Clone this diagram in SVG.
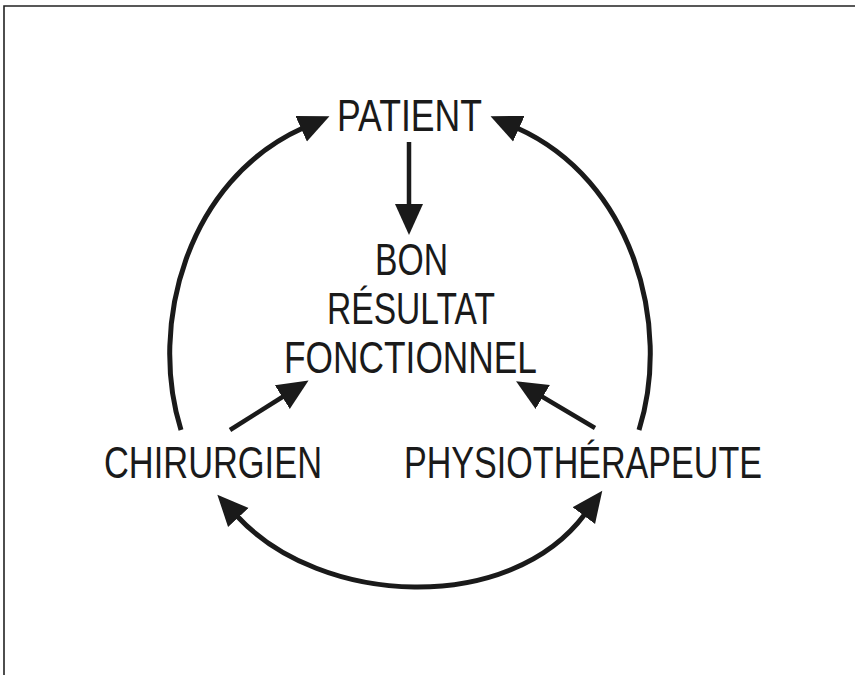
<svg xmlns="http://www.w3.org/2000/svg" width="855" height="675" viewBox="0 0 855 675">
<style>
.lbl{font-family:"Liberation Sans",Arial,sans-serif;font-size:45px;fill:#1a1a1a}
.arc{fill:none;stroke:#1a1a1a;stroke-width:5}
.ln{fill:none;stroke:#1a1a1a;stroke-width:4.5}
</style>
<defs>
<marker id="ah" markerUnits="userSpaceOnUse" markerWidth="34" markerHeight="30" viewBox="0 -15 34 30" refX="2" refY="0" orient="auto-start-reverse">
<path d="M0,-14 L31,0 L0,14 z" fill="#1a1a1a"/>
</marker>
</defs>
<rect width="855" height="675" fill="#fff"/>
<path d="M4,675 L4,6 L855,6" fill="none" stroke="#222" stroke-width="1.6"/>
<g id="connectors">
<path class="arc" d="M181,430 C148,325 187,180 303,128" marker-end="url(#ah)"/>
<path class="arc" d="M639,430 C672,325 633,180 517,128" marker-end="url(#ah)"/>
<path class="arc" d="M237,516 C321,607 510,615 585,514" marker-start="url(#ah)" marker-end="url(#ah)"/>
<path class="ln" d="M409,142 L409,206" marker-end="url(#ah)"/>
<path class="ln" d="M230,430 L284,396" marker-end="url(#ah)"/>
<path class="ln" d="M595,428 L541,396" marker-end="url(#ah)"/>
</g>
<g id="patient"><text class="lbl" x="337" y="131" textLength="145" lengthAdjust="spacingAndGlyphs">PATIENT</text></g>
<g id="resultat">
<text class="lbl" x="375" y="275" textLength="73" lengthAdjust="spacingAndGlyphs">BON</text>
<text class="lbl" x="327" y="324" textLength="168" lengthAdjust="spacingAndGlyphs">RÉSULTAT</text>
<text class="lbl" x="284" y="373" textLength="253" lengthAdjust="spacingAndGlyphs">FONCTIONNEL</text>
</g>
<g id="chirurgien"><text class="lbl" x="104" y="478" textLength="218" lengthAdjust="spacingAndGlyphs">CHIRURGIEN</text></g>
<g id="physio"><text class="lbl" x="404" y="478" textLength="358" lengthAdjust="spacingAndGlyphs">PHYSIOTHÉRAPEUTE</text></g>
</svg>
